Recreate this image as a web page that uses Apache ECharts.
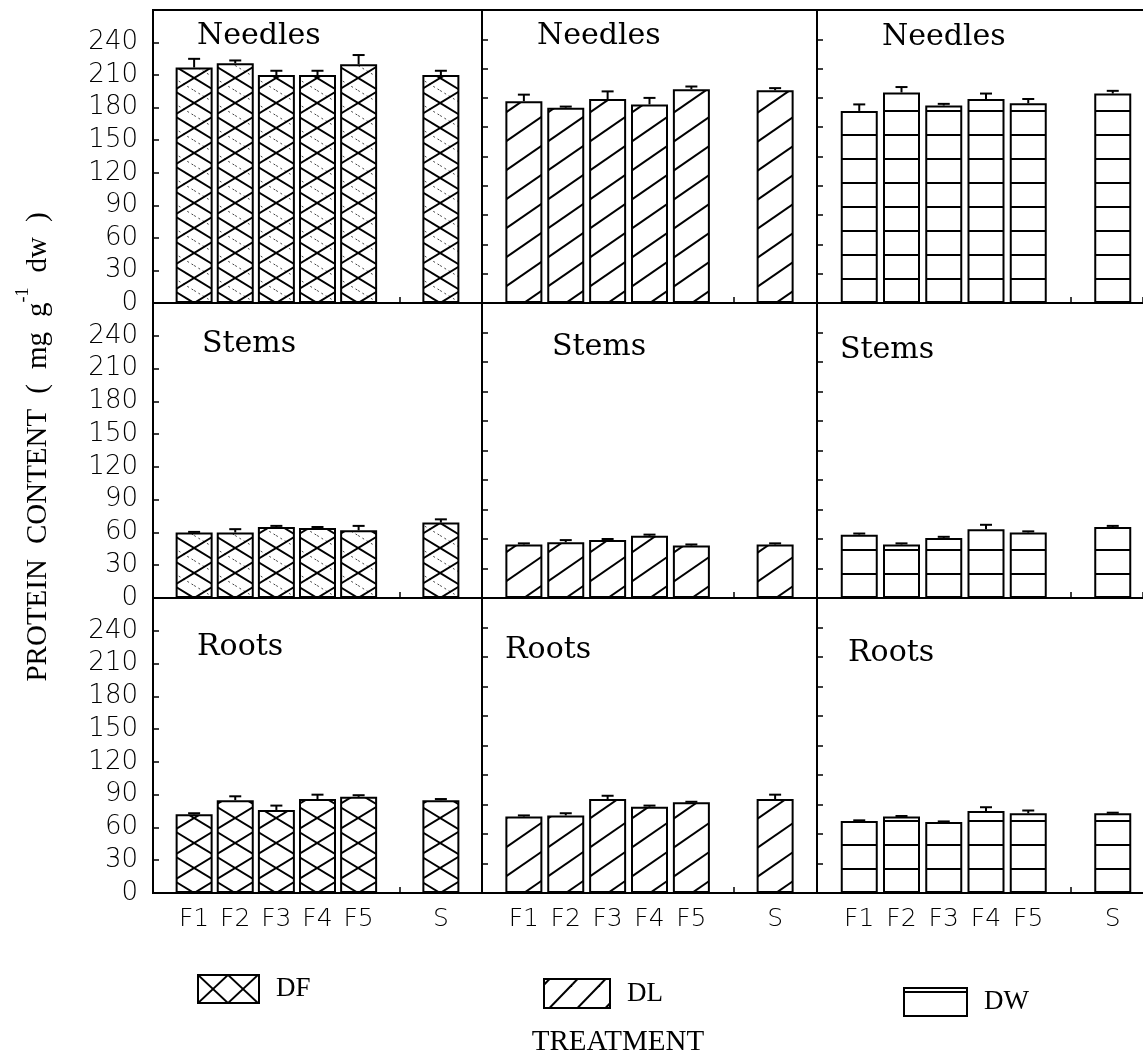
<!DOCTYPE html>
<html>
<head>
<meta charset="utf-8">
<title>Protein content by treatment</title>
<script src="https://cdn.jsdelivr.net/npm/echarts@6/dist/echarts.min.js"></script>
<style>
  html, body { margin: 0; padding: 0; background: #fff; }
  #chart { width: 1143px; height: 1061px; }
</style>
</head>
<body>
<div id="chart"></div>
<script>
// ---- data -------------------------------------------------------------
const treatments = ['F1', 'F2', 'F3', 'F4', 'F5', 'S'];
const slots = [1, 2, 3, 4, 5, 7];          // F1..F5 side by side, S after a gap
const organs = ['Needles', 'Stems', 'Roots'];
const species = ['DF', 'DL', 'DW'];
const yTickLabels = [0, 30, 60, 90, 120, 150, 180, 210, 240];

// protein content (mg g-1 dw) and standard errors
const dfNeedles = [217, 221, 210, 210, 220, 210];
const dfNeedlesErr = [8, 2.5, 4, 4, 8.5, 4];
const dlNeedles = [186, 180, 188, 183, 197, 196];
const dlNeedlesErr = [6, 1, 7, 6, 2.5, 2];
const dwNeedles = [177, 194, 182, 188, 184, 193];
const dwNeedlesErr = [6, 5, 1.5, 5, 4, 2.5];

const dfStems = [60, 60, 65, 64, 62, 69];
const dfStemsErr = [0.5, 3, 1, 1, 4, 3];
const dlStems = [49, 51, 53, 57, 48, 49];
const dlStemsErr = [1, 2, 1, 1, 1, 1];
const dwStems = [58, 49, 55, 63, 60, 65];
const dwStemsErr = [1, 1, 1, 4, 1, 1];

const dfRoots = [72, 85, 76, 86, 88, 85];
const dfRootsErr = [1, 3.5, 4, 4, 1.5, 1];
const dlRoots = [70, 71, 86, 79, 83, 86];
const dlRootsErr = [1, 2, 3, 1, 0.5, 4];
const dwRoots = [66, 70, 65, 75, 73, 73];
const dwRootsErr = [0.5, 0.5, 0.5, 3.5, 2.5, 0.5];

const panelData = [
  [[dfNeedles, dfNeedlesErr], [dlNeedles, dlNeedlesErr], [dwNeedles, dwNeedlesErr]],
  [[dfStems, dfStemsErr], [dlStems, dlStemsErr], [dwStems, dwStemsErr]],
  [[dfRoots, dfRootsErr], [dlRoots, dlRootsErr], [dwRoots, dwRootsErr]]
];

// ---- layout -----------------------------------------------------------
// Each panel spans 8 slot units; the third column runs past the page edge,
// so its grid is cut at the edge and its axis max shortened to keep the scale.
const colX = [153, 482, 817];
const colUnit = [329 / 8, 335 / 8, 338 / 8];
const colW = [329, 335, 1143 - 817];
const rowY = [10, 303, 598];
const rowH = [293, 295, 295];
const Y_MAX = 270;

const SERIF = '"Liberation Serif", "DejaVu Serif", serif';
const TITLE_SERIF = '"DejaVu Serif", "Liberation Serif", serif';
const SANS = '"DejaVu Sans", "Liberation Sans", sans-serif';

// ---- hatch fills ------------------------------------------------------
function mod(a, n) { return ((a % n) + n) % n; }
function tile(w, h, draw) {
  const c = document.createElement('canvas');
  c.width = w; c.height = h;
  const g = c.getContext('2d');
  g.fillStyle = '#fff';
  g.fillRect(0, 0, w, h);
  g.strokeStyle = '#000';
  draw(g);
  return { image: c, repeat: 'repeat' };
}
function seg(g, x1, y1, x2, y2) { g.beginPath(); g.moveTo(x1, y1); g.lineTo(x2, y2); g.stroke(); }

// diamond cross-hatch with a crossing at (ox, oy)
function crossHatch(ox, oy, w, h, dotted) {
  return tile(w, h, g => {
    const px = mod(ox, w), py = mod(oy, h);
    for (const dx of [-w, 0, w]) for (const dy of [-h, 0, h]) {
      const cx = px + dx, cy = py + dy;
      if (dotted) {
        g.save();
        g.lineWidth = 1; g.strokeStyle = '#444'; g.setLineDash([2, 3]);
        seg(g, cx, cy - h / 2, cx + w, cy + h / 2);
        g.restore();
      }
      g.lineWidth = 2;
      seg(g, cx - w / 2, cy - h / 2, cx + w / 2, cy + h / 2);
      seg(g, cx - w / 2, cy + h / 2, cx + w / 2, cy - h / 2);
    }
  });
}
// single forward-slash hatch passing through (ox, oy)
function slashHatch(ox, oy, w, h) {
  return tile(w, h, g => {
    const px = mod(ox, w), py = mod(oy, h);
    g.lineWidth = 2;
    for (const dx of [-w, 0, w]) for (const dy of [-h, 0, h]) {
      const cx = px + dx, cy = py + dy;
      seg(g, cx - w / 2, cy + h / 2, cx + w / 2, cy - h / 2);
    }
  });
}
// horizontal rules, one every h pixels, passing through y = oy
function ruleHatch(oy, h) {
  return tile(8, h, g => {
    const py = mod(oy, h);
    g.fillStyle = '#000';
    for (const dy of [-h, 0, h]) g.fillRect(0, py + dy - 1, 8, 2);
  });
}

function fillFor(r, c) {
  const unit = colUnit[c];
  const w = Math.round(unit);
  const cx = colX[c] + unit;        // centre of the first bar
  const base = rowY[r] + rowH[r];   // zero line
  if (c === 0) return crossHatch(cx, base, w, 25, r < 2);
  if (c === 1) return slashHatch(cx, base, w, 29);
  return ruleHatch(base, 24);
}

// ---- options ----------------------------------------------------------
const grids = [], xAxes = [], yAxes = [], series = [];
const labelOf = {};
slots.forEach((s, k) => { labelOf[s] = treatments[k]; });
const axisLineStyle = { color: '#000', width: 2 };
const tickStyle = { color: '#000', width: 1.5 };

for (let r = 0; r < 3; r++) {
  for (let c = 0; c < 3; c++) {
    const i = r * 3 + c;
    const xMax = colW[c] / colUnit[c];
    grids.push({
      left: colX[c], top: rowY[r], width: colW[c], height: rowH[r],
      show: c < 2, borderColor: '#000', borderWidth: 2, backgroundColor: 'transparent'
    });
    xAxes.push({
      gridIndex: i, type: 'value', min: 0, max: xMax, interval: 1,
      axisLine: { show: true, onZero: false, lineStyle: axisLineStyle },
      axisTick: { show: true, inside: true, length: 6, lineStyle: tickStyle },
      splitLine: { show: false },
      axisLabel: r === 2 ? {
        show: true, margin: 14, color: '#000', fontFamily: SANS, fontSize: 25, fontWeight: 200,
        showMaxLabel: false, formatter: v => labelOf[v] || ''
      } : { show: false }
    });
    yAxes.push({
      gridIndex: i, type: 'value', min: 0, max: Y_MAX, interval: c === 0 ? 30 : 27,
      axisLine: { show: true, lineStyle: axisLineStyle },
      axisTick: { show: true, inside: true, length: 6, lineStyle: tickStyle },
      splitLine: { show: false },
      axisLabel: c === 0 ? {
        show: true, margin: 15, color: '#000', fontFamily: SANS, fontSize: 26, fontWeight: 200,
        formatter: v => yTickLabels.indexOf(v) >= 0 ? String(v) : ''
      } : { show: false }
    });

    const [vals, errs] = panelData[r][c];
    series.push({
      type: 'bar', name: species[c], xAxisIndex: i, yAxisIndex: i,
      data: slots.map((s, k) => [s, vals[k]]),
      barWidth: 37, silent: true, z: 2,
      itemStyle: { color: fillFor(r, c), borderColor: '#000', borderWidth: 2 }
    });
    series.push({
      type: 'custom', name: species[c] + ' error', xAxisIndex: i, yAxisIndex: i,
      data: slots.map((s, k) => [s, vals[k], errs[k]]),
      silent: true, z: 3,
      renderItem: (params, api) => {
        const x = api.value(0), v = api.value(1), e = api.value(2);
        const a = api.coord([x, v]), b = api.coord([x, v + e]);
        return {
          type: 'group', children: [
            { type: 'line', shape: { x1: a[0], y1: a[1], x2: b[0], y2: b[1] }, style: { stroke: '#000', lineWidth: 2 } },
            { type: 'line', shape: { x1: b[0] - 6, y1: b[1], x2: b[0] + 6, y2: b[1] }, style: { stroke: '#000', lineWidth: 2 } }
          ]
        };
      }
    });
  }
}
// top frame line of the cut-off third column
xAxes.push({
  gridIndex: 2, type: 'value', position: 'top', min: 0, max: 1,
  axisLine: { show: true, onZero: false, lineStyle: axisLineStyle },
  axisTick: { show: false }, axisLabel: { show: false }, splitLine: { show: false }
});

// panel captions
const captionPos = [
  [[197, 36], [537, 36], [882, 37]],
  [[202, 344], [552, 347], [840, 350]],
  [[197, 647], [505, 650], [848, 653]]
];
const graphics = [];
for (let r = 0; r < 3; r++) for (let c = 0; c < 3; c++) {
  graphics.push({
    type: 'text', x: captionPos[r][c][0], y: captionPos[r][c][1], silent: true,
    style: { text: organs[r], fill: '#000', font: '30px ' + TITLE_SERIF, align: 'left', verticalAlign: 'middle' }
  });
}
// y-axis title, reading bottom to top
graphics.push({
  type: 'text', x: 38, y: 447, rotation: Math.PI / 2, silent: true,
  style: {
    text: '{t|PROTEIN}{g| }{t|CONTENT}{g| }{t|(}{g| }{t|mg}{g| }{t|g}{sup|-1}{g| }{t|dw}{g| }{t|)}',
    align: 'center', verticalAlign: 'middle', fill: '#000',
    rich: {
      t: { fontFamily: SERIF, fontSize: 29, lineHeight: 48, fill: '#000' },
      g: { fontFamily: SERIF, fontSize: 29, lineHeight: 48, width: 15 },
      sup: { fontFamily: SERIF, fontSize: 18, lineHeight: 18, verticalAlign: 'top', fill: '#000' }
    }
  }
});
// x-axis title
graphics.push({
  type: 'text', x: 618, y: 1042, silent: true,
  style: { text: 'TREATMENT', fill: '#000', font: '29px ' + SERIF, align: 'center', verticalAlign: 'middle' }
});

// legend swatches (fills are laid out in each legend's own coordinates)
const legendBox = [
  { left: 197, top: 974, w: 61, h: 28 },
  { left: 543, top: 978, w: 66, h: 29 },
  { left: 903, top: 987, w: 63, h: 28 }
];
const legendFill = [
  crossHatch(15, 14, 30, 28, false),
  slashHatch(20, 14, 28, 29),
  ruleHatch(4, 60)
];
const legends = species.map((sp, k) => ({
  data: [sp], left: legendBox[k].left, top: legendBox[k].top,
  itemWidth: legendBox[k].w, itemHeight: legendBox[k].h,
  icon: 'rect', selectedMode: false, padding: 0,
  itemStyle: { color: legendFill[k], borderColor: '#000', borderWidth: 2 },
  textStyle: { fontFamily: SERIF, fontSize: 27, color: '#000', padding: [0, 0, 0, 12] }
}));

const chart = echarts.init(document.getElementById('chart'), null, { renderer: 'canvas' });
chart.setOption({
  animation: false,
  backgroundColor: '#fff',
  grid: grids,
  xAxis: xAxes,
  yAxis: yAxes,
  series: series,
  legend: legends,
  graphic: graphics
});
</script>
</body>
</html>
